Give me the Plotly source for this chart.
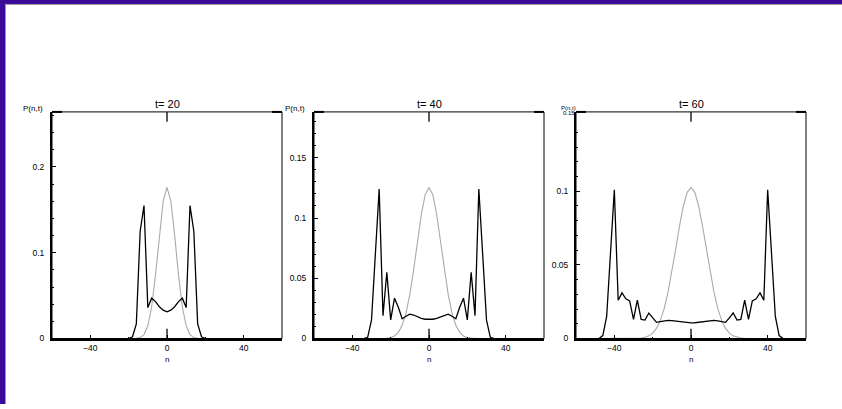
import plotly.graph_objects as go

W, H = 842, 409

# ---------------- data ----------------
n20 = [-20, -18, -16, -14, -12, -10, -8, -6, -4, -2, 0, 2, 4, 6, 8, 10, 12, 14, 16, 18, 20]
quantum20 = [0.0, 0.002, 0.017, 0.125, 0.155, 0.036, 0.047, 0.043, 0.037, 0.033, 0.031,
             0.033, 0.037, 0.043, 0.047, 0.036, 0.155, 0.125, 0.017, 0.002, 0.0]
classic20 = [0.0, 0.00002, 0.0002, 0.0011, 0.0046, 0.0148, 0.037, 0.0739, 0.1201, 0.1602, 0.1762,
             0.1602, 0.1201, 0.0739, 0.037, 0.0148, 0.0046, 0.0011, 0.0002, 0.00002, 0.0]

n40 = [-34, -32, -30, -28, -26, -24, -22, -20, -18, -16, -14, -12, -10, -8, -6, -4, -2, 0,
       2, 4, 6, 8, 10, 12, 14, 16, 18, 20, 22, 24, 26, 28, 30, 32, 34]
quantum40 = [0.0, 0.001, 0.0153, 0.07, 0.124, 0.019, 0.055, 0.0155, 0.0335, 0.026, 0.0164, 0.0185,
             0.0202, 0.0195, 0.018, 0.0168, 0.016, 0.0157,
             0.016, 0.0168, 0.018, 0.0195, 0.0202, 0.0185, 0.0164, 0.026, 0.0335, 0.0155, 0.055,
             0.019, 0.124, 0.07, 0.0153, 0.001, 0.0]
classic40 = [0.0, 0.0, 0.0, 0.0, 0.00002, 0.00007, 0.00025, 0.00077, 0.0021, 0.0051, 0.0109, 0.0211,
             0.0366, 0.0572, 0.0807, 0.1031, 0.1194, 0.1254,
             0.1194, 0.1031, 0.0807, 0.0572, 0.0366, 0.0211, 0.0109, 0.0051, 0.0021, 0.00077, 0.00025,
             0.00007, 0.00002, 0.0, 0.0, 0.0, 0.0]

n60 = [-48, -46, -44, -42, -40, -38, -36, -34, -32, -30, -28, -26, -24, -22, -20, -18, -16, -14,
       -12, -10, -8, -6, -4, -2, 0, 2, 4, 6, 8, 10, 12, 14, 16, 18, 20, 22, 24, 26, 28, 30, 32,
       34, 36, 38, 40, 42, 44, 46, 48]
quantum60 = [0.0, 0.002, 0.015, 0.058, 0.101, 0.026, 0.031, 0.027, 0.0256, 0.013, 0.026, 0.013,
             0.0125, 0.0173, 0.014, 0.011, 0.0115, 0.012, 0.0123, 0.0122, 0.0118, 0.0113, 0.011,
             0.0107, 0.0106,
             0.0107, 0.011, 0.0113, 0.0118, 0.0122, 0.0123, 0.012, 0.0115, 0.011, 0.014, 0.0173,
             0.0125, 0.013, 0.026, 0.013, 0.0256, 0.027, 0.031, 0.026, 0.101, 0.058, 0.015, 0.002, 0.0]
classic60 = [0.0, 0.0, 0.0, 0.0, 0.0, 0.0, 0.0, 0.0, 0.0, 0.0, 0.0001, 0.0003, 0.0008, 0.0018, 0.0036,
             0.0069, 0.0123, 0.0203, 0.0313, 0.045, 0.0606, 0.0764, 0.09, 0.0993, 0.1026,
             0.0993, 0.09, 0.0764, 0.0606, 0.045, 0.0313, 0.0203, 0.0123, 0.0069, 0.0036, 0.0018,
             0.0008, 0.0003, 0.0001, 0.0, 0.0, 0.0, 0.0, 0.0, 0.0, 0.0, 0.0, 0.0, 0.0]

titles = ["t= 20", "t= 40", "t= 60"]
y_max = [0.264, 0.1881, 0.1539]
x_range = [-60, 60]
x_major = [-40, 0, 40]
x_major_text = ["\u221240", "0", "40"]
x_minor = [-20, 20]
y_major = [[0, 0.1, 0.2], [0, 0.05, 0.1, 0.15], [0, 0.05, 0.1]]
y_major_text = [["0", "0.1", "0.2"], ["0", "0.05", "0.1", "0.15"], ["0", "0.05", "0.1"]]
y_minor = [
    [0.02, 0.04, 0.06, 0.08, 0.12, 0.14, 0.16, 0.18, 0.22, 0.24, 0.26],
    [0.01, 0.02, 0.03, 0.04, 0.06, 0.07, 0.08, 0.09, 0.11, 0.12, 0.13, 0.14, 0.16, 0.17, 0.18],
    [0.01, 0.02, 0.03, 0.04, 0.06, 0.07, 0.08, 0.09, 0.11, 0.12, 0.13, 0.14],
]

panels = [(n20, quantum20, classic20), (n40, quantum40, classic40), (n60, quantum60, classic60)]

# ---------------- layout geometry (pixels) ----------------
left_px = [52, 314, 576]
plot_w = 230
top_px, bottom_px = 113.3, 342.7
FONT = "Liberation Sans"

fig = go.Figure()
layout = dict(
    width=W, height=H, margin=dict(l=0, r=0, t=0, b=0),
    paper_bgcolor="white", plot_bgcolor="white", showlegend=False,
)
shapes = []
annotations = []

for i, (nn, q, c) in enumerate(panels):
    k = "" if i == 0 else str(i + 1)
    xa, ya = "x" + k, "y" + k
    fig.add_trace(go.Scatter(x=nn, y=c, mode="lines", xaxis=xa, yaxis=ya,
                             line=dict(color="#a9a9a9", width=1.1), hoverinfo="skip"))
    fig.add_trace(go.Scatter(x=nn, y=q, mode="lines", xaxis=xa, yaxis=ya,
                             line=dict(color="black", width=1.3), hoverinfo="skip"))
    x0 = left_px[i] / W
    x1 = (left_px[i] + plot_w) / W
    layout["xaxis" + k] = dict(
        domain=[x0, x1], range=x_range, anchor=ya, showgrid=False, zeroline=False,
        showline=True, linewidth=2, linecolor="black",
        tickmode="array", tickvals=x_major, ticktext=x_major_text,
        ticks="inside", ticklen=4, tickwidth=1, tickcolor="black",
        minor=dict(tickmode="array", tickvals=x_minor, ticks="inside", ticklen=2,
                   tickcolor="black", tickwidth=1),
        tickfont=dict(family=FONT, size=8.5, color="black"),
        fixedrange=True,
    )
    layout["yaxis" + k] = dict(
        domain=[1 - bottom_px / H, 1 - top_px / H], range=[0, y_max[i]], anchor=xa,
        showgrid=False, zeroline=False, showline=True, linewidth=2, linecolor="black",
        tickmode="array", tickvals=y_major[i], ticktext=y_major_text[i],
        ticks="inside", ticklen=4, tickwidth=1, tickcolor="black",
        minor=dict(tickmode="array", tickvals=y_minor[i], ticks="inside", ticklen=2,
                   tickcolor="black", tickwidth=1),
        tickfont=dict(family=FONT, size=8.5, color="black"),
        ticklabelstandoff=4,
        fixedrange=True,
    )
    xd, yd = xa + " domain", ya + " domain"
    # frame
    shapes.append(dict(type="rect", xref=xd, yref=yd, x0=0, x1=1, y0=0, y1=1,
                       line=dict(color="black", width=1)))
    # long tick at n = 0 (top and bottom)
    fy = 10 / (bottom_px - top_px)
    shapes.append(dict(type="line", xref=xa, yref=yd, x0=0, x1=0, y0=0, y1=fy,
                       line=dict(color="black", width=1.3)))
    shapes.append(dict(type="line", xref=xa, yref=yd, x0=0, x1=0, y0=1 - fy, y1=1,
                       line=dict(color="black", width=1.3)))
    # short thick marks at the top corners
    fx = 10 / plot_w
    shapes.append(dict(type="line", xref=xd, yref=yd, x0=0, x1=fx, y0=1, y1=1,
                       line=dict(color="black", width=2)))
    shapes.append(dict(type="line", xref=xd, yref=yd, x0=1 - fx, x1=1, y0=1, y1=1,
                       line=dict(color="black", width=2)))
    # title
    cx = (left_px[i] + plot_w / 2) / W
    annotations.append(dict(text=titles[i], xref="paper", yref="paper", x=cx, y=1 - 105 / H,
                            xanchor="center", yanchor="middle", showarrow=False,
                            font=dict(family=FONT, size=11, color="black")))
    # x label
    annotations.append(dict(text="n", xref="paper", yref="paper", x=cx, y=1 - 364 / H,
                            xanchor="center", yanchor="middle", showarrow=False,
                            font=dict(family=FONT, size=8, color="black")))
    # y label
    if i < 2:
        annotations.append(dict(text="P(n,t)", xref="paper", yref="paper",
                                x=(left_px[i] - 7) / W, y=1 - 110 / H,
                                xanchor="right", yanchor="middle", showarrow=False,
                                font=dict(family=FONT, size=8, color="black")))
    else:
        annotations.append(dict(text="P(n,t)", xref="paper", yref="paper",
                                x=(left_px[i] + 2) / W, y=1 - 109.5 / H,
                                xanchor="right", yanchor="middle", showarrow=False,
                                font=dict(family=FONT, size=6, color="black")))
        annotations.append(dict(text="0.15", xref="paper", yref="paper",
                                x=(left_px[i] + 1) / W, y=1 - 114.5 / H,
                                xanchor="right", yanchor="middle", showarrow=False,
                                font=dict(family=FONT, size=6, color="black")))

# purple window border
shapes.append(dict(type="rect", xref="paper", yref="paper", x0=0, x1=1, y0=1 - 4 / H, y1=1,
                   fillcolor="#3c0a98", line=dict(width=0)))
shapes.append(dict(type="rect", xref="paper", yref="paper", x0=0, x1=5 / W, y0=0, y1=1,
                   fillcolor="#3c0a98", line=dict(width=0)))
shapes.append(dict(type="line", xref="paper", yref="paper", x0=5 / W, x1=1,
                   y0=1 - 4.5 / H, y1=1 - 4.5 / H, line=dict(color="#9a9a9a", width=1)))
shapes.append(dict(type="line", xref="paper", yref="paper", x0=5.5 / W, x1=5.5 / W,
                   y0=0, y1=1 - 4 / H, line=dict(color="#9a9a9a", width=1)))

layout["shapes"] = shapes
layout["annotations"] = annotations
fig.update_layout(**layout)
fig.write_html("out.html")
